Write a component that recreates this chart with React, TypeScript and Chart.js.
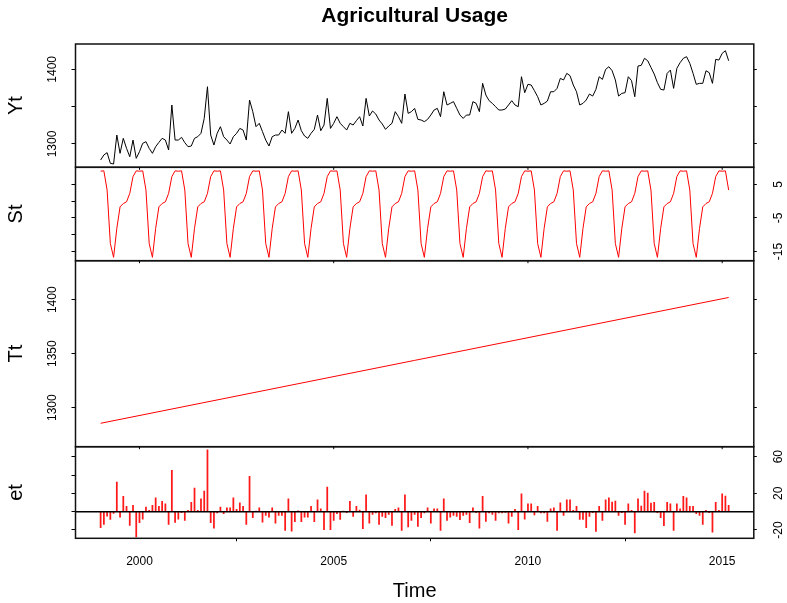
import React, { useEffect, useRef } from "react";
import { Chart, registerables } from "chart.js";

Chart.register(...registerables);

const FONT = "'Liberation Sans', Arial, sans-serif";

// ---- time index ----
const startYear = 1999;
const monthsPerYear = 12;

// ---- observed series (Yt), monthly Jan 1999 .. Mar 2015 ----
const ytValues = [
  1278.6, 1285.3, 1288.4, 1274.1, 1273.2, 1312.0, 1287.5, 1307.6, 1294.2, 1283.0, 1305.3, 1280.8,
  1289.7, 1300.9, 1303.1, 1294.2, 1287.5, 1296.4, 1302.2, 1307.6, 1305.3, 1292.0, 1352.2, 1305.3,
  1305.3, 1308.9, 1301.8, 1296.4, 1297.3, 1307.6, 1309.8, 1314.3, 1334.3, 1376.7, 1312.0, 1298.6,
  1314.3, 1323.2, 1309.8, 1305.3, 1300.0, 1309.8, 1314.3, 1320.9, 1318.7, 1305.3, 1358.9, 1343.3,
  1323.2, 1327.7, 1316.5, 1305.3, 1297.3, 1309.8, 1312.0, 1312.0, 1318.7, 1314.3, 1343.3, 1314.3,
  1320.9, 1332.1, 1317.8, 1310.7, 1307.6, 1314.3, 1319.6, 1338.8, 1317.8, 1325.4, 1361.1, 1320.9,
  1327.7, 1336.6, 1327.7, 1323.2, 1318.7, 1327.7, 1325.4, 1331.2, 1336.6, 1324.1, 1361.1, 1337.5,
  1344.2, 1340.1, 1332.1, 1326.8, 1319.6, 1324.1, 1327.7, 1343.3, 1336.6, 1327.7, 1366.9, 1341.0,
  1343.3, 1347.7, 1333.0, 1332.1, 1329.9, 1333.0, 1338.8, 1345.5, 1347.7, 1336.6, 1370.0, 1352.2,
  1354.4, 1356.7, 1347.7, 1338.8, 1334.3, 1338.8, 1338.8, 1356.7, 1354.4, 1343.3, 1381.2, 1365.6,
  1358.0, 1354.4, 1350.0, 1345.5, 1345.5, 1346.8, 1352.2, 1358.0, 1352.2, 1350.0, 1390.1, 1368.7,
  1379.9, 1379.0, 1371.4, 1363.3, 1352.2, 1354.4, 1357.5, 1370.0, 1370.0, 1374.5, 1387.9, 1385.7,
  1394.6, 1391.5, 1379.0, 1370.0, 1352.2, 1354.4, 1358.9, 1366.9, 1364.2, 1373.2, 1390.1, 1386.5,
  1399.9, 1403.5, 1398.1, 1385.7, 1364.2, 1367.8, 1368.7, 1390.1, 1384.8, 1363.3, 1404.4, 1405.3,
  1414.7, 1411.5, 1402.6, 1393.7, 1382.1, 1373.2, 1372.3, 1394.6, 1399.0, 1374.5, 1401.3, 1408.9,
  1414.7, 1416.9, 1408.0, 1394.6, 1379.9, 1381.2, 1381.2, 1398.1, 1395.5, 1381.2, 1413.3, 1412.4,
  1421.4, 1424.9, 1411.5,
];

// ---- seasonal component (St): one value per calendar month, Jan..Dec ----
const seasonalPattern = [8.9, 9.0, 3.3, -12.6, -16.7, -8.1, -1.7, -0.7, -0.2, 2.3, 7.3, 9.0];

// ---- trend component (Tt): straight line, start and end ----
const trendTimes = [1999, 2015.1667];
const trendValues = [1285.5, 1402.1];

// ---- irregular component (et) ----
const etValues = [
  -17.4, -13.9, -5.0, -8.5, -2.0, 32.2, -5.9, 16.7, 5.7, -15.0, 6.9, -27.6,
  -12.1, -8.1, 5.0, 1.3, 6.9, 15.1, 5.7, 11.2, 8.6, -13.9, 45.0, -11.7,
  -8.1, -1.0, -9.5, 1.3, 10.1, 25.8, 1.3, 14.1, 22.5, 67.5, -12.1, -18.0,
  -1.5, 5.0, -2.3, 4.3, 4.3, 15.1, 2.5, 9.7, 5.7, -13.9, 38.5, -6.6,
  0.5, 4.3, -11.4, -4.1, -5.9, 4.3, -12.5, -4.1, -4.1, -20.5, 14.1, -21.2,
  -10.9, 1.0, -10.9, -5.9, -5.9, 5.7, -10.9, 13.0, 3.2, -19.7, 26.8, -19.7,
  -9.5, -2.3, -8.5, 0.5, -1.0, 11.2, -5.1, 5.7, 1.7, -18.6, 18.4, -12.5,
  -3.0, -1.5, -13.9, -5.1, -6.6, -3.0, -15.0, 2.5, 4.3, -20.5, 18.4, -16.8,
  -9.5, -3.1, -16.1, -6.6, -1.5, 4.3, -12.5, 3.2, 3.2, -20.5, 14.1, -9.5,
  -5.9, -4.1, -5.1, -8.8, -4.1, -3.1, -12.1, 4.3, -1.0, -18.0, 16.7, -10.6,
  -1.5, -3.1, -9.5, -1.5, -1.5, -0.8, -12.5, -5.1, 2.5, -19.7, 19.4, -8.1,
  8.6, 8.6, -3.7, 5.7, -1.5, -1.5, -10.6, 3.2, 4.3, -20.5, 9.7, -4.1,
  13.0, 13.0, 1.3, 5.7, -8.5, -8.5, -17.4, -5.1, -1.0, -21.5, 5.7, -9.5,
  13.0, 15.1, 10.4, 11.5, -4.1, -1.0, -13.9, 8.6, 1.3, -23.3, 14.1, 6.0,
  22.5, 20.3, 9.3, 10.1, -1.0, -6.6, -15.3, 10.1, 8.6, -20.5, 8.6, 3.2,
  16.7, 15.1, 5.7, 5.7, -2.3, -4.1, -13.9, 1.3, -1.0, -22.3, 10.1, 1.3,
  19.4, 17.0, 6.9,
];

// ---- axes ----
const xRange = [1998.353, 2015.814];
const xTicks = [2000, 2005, 2010, 2015];
const xTickLabels = ["2000", "2005", "2010", "2015"];

const ytRange = [1268.8, 1433.9];
const ytTicks = [1300, 1350, 1400];
const ytTickLabels = ["1300", "", "1400"];

const stRange = [-17.7, 10.06];
const stTicks = [-15, -10, -5, 0, 5];
const stTickLabels = ["-15", "", "-5", "", "5"];

const ttRange = [1263.8, 1436.2];
const ttTicks = [1300, 1350, 1400];
const ttTickLabels = ["1300", "1350", "1400"];

const etRange = [-29.1, 70.9];
const etTicks = [-20, 0, 20, 40, 60];
const etTickLabels = ["-20", "", "20", "", "60"];

const LEFT_W = 75.5;
const RIGHT_W = 33.2;

function timeOf(i: number) {
  return startYear + i / monthsPerYear;
}

function yAxis(
  pos: "left" | "right",
  weight: number,
  stackWeight: number,
  range: number[],
  ticks: number[],
  labels: string[] | null,
  title: string | null,
  padding: number
) {
  return {
    type: "linear",
    position: pos,
    stack: "panels",
    stackWeight,
    weight,
    min: range[0],
    max: range[1],
    afterBuildTicks: (s: any) => {
      s.ticks = ticks.map((v) => ({ value: v }));
    },
    afterFit: (s: any) => {
      s.width = pos === "left" ? LEFT_W : RIGHT_W;
    },
    ticks: {
      display: true,
      minRotation: 90,
      maxRotation: 90,
      crossAlign: "center",
      padding,
      color: "#000",
      font: { family: FONT, size: 12 },
      callback: (_v: any, idx: number) => (labels ? labels[idx] : ""),
    },
    grid: {
      display: true,
      drawOnChartArea: false,
      drawTicks: true,
      tickLength: pos === "left" ? 4 : 3,
      color: "#000",
      lineWidth: 1,
    },
    border: { display: false },
    title: title
      ? {
          display: true,
          text: title,
          color: "#000",
          font: { family: FONT, size: 20 },
          padding: { top: 4, bottom: 0 },
        }
      : { display: false },
  };
}

const leftPanelIds = ["yYt", "yStL", "yTt", "yEtL"];

const framePlugin = {
  id: "panelFrames",
  afterDraw(chart: any) {
    const { ctx, chartArea, scales } = chart;
    ctx.save();
    ctx.strokeStyle = "#111";
    ctx.lineWidth = 1.5;
    leftPanelIds.forEach((id) => {
      const s = scales[id];
      ctx.strokeRect(chartArea.left, s.top, chartArea.right - chartArea.left, s.bottom - s.top);
    });
    ctx.lineWidth = 1;
    ctx.strokeStyle = "#000";
    const xs = scales.x;
    leftPanelIds.slice(0, 3).forEach((id) => {
      const s = scales[id];
      xTicks.forEach((v) => {
        const px = xs.getPixelForValue(v);
        ctx.beginPath();
        ctx.moveTo(px, s.bottom);
        ctx.lineTo(px, s.bottom + 2.5);
        ctx.stroke();
      });
    });
    ctx.restore();
  },
};

export default function App() {
  const ref = useRef<HTMLCanvasElement | null>(null);

  useEffect(() => {
    if (!ref.current) return;
    const ytData = ytValues.map((v, i) => ({ x: timeOf(i), y: v }));
    const stData = ytValues.map((_v, i) => ({ x: timeOf(i), y: seasonalPattern[i % monthsPerYear] }));
    const ttData = trendTimes.map((t, i) => ({ x: t, y: trendValues[i] }));
    const etData = etValues.map((v, i) => ({ x: timeOf(i), y: v }));
    const zeroData = xRange.map((t) => ({ x: t, y: 0 }));

    const chart = new Chart(ref.current, {
      type: "line",
      data: {
        datasets: [
          {
            label: "Yt",
            data: ytData,
            yAxisID: "yYt",
            borderColor: "#000",
            borderWidth: 1,
            pointRadius: 0,
            tension: 0,
            fill: false,
          },
          {
            label: "St",
            data: stData,
            yAxisID: "yStR",
            borderColor: "#ff0000",
            borderWidth: 1,
            pointRadius: 0,
            tension: 0,
            fill: false,
          },
          {
            label: "Tt",
            data: ttData,
            yAxisID: "yTt",
            borderColor: "#ff0000",
            borderWidth: 1,
            pointRadius: 0,
            tension: 0,
            fill: false,
          },
          {
            label: "zero",
            data: zeroData,
            yAxisID: "yEtR",
            borderColor: "#000",
            borderWidth: 1.5,
            pointRadius: 0,
            fill: false,
            order: 0,
          },
          {
            type: "bar",
            label: "et",
            data: etData,
            yAxisID: "yEtR",
            backgroundColor: "rgba(255,0,0,0.9)",
            borderWidth: 0,
            barThickness: 1.1,
            order: 1,
          } as any,
        ],
      },
      options: {
        animation: false,
        responsive: false,
        devicePixelRatio: 1,
        events: [],
        layout: { padding: 0 },
        plugins: {
          legend: { display: false },
          tooltip: { enabled: false },
          title: {
            display: true,
            fullSize: false,
            text: "Agricultural Usage",
            color: "#000",
            font: { family: FONT, size: 21, weight: "bold", lineHeight: 1.2 },
            padding: { top: 3.2, bottom: 15.6 },
          },
        },
        scales: {
          x: {
            type: "linear",
            position: "bottom",
            min: xRange[0],
            max: xRange[1],
            offset: false,
            afterBuildTicks: (s: any) => {
              s.ticks = xTicks.map((v) => ({ value: v }));
            },
            afterFit: (s: any) => {
              s.height = 64.7;
            },
            ticks: {
              color: "#000",
              padding: 13,
              maxRotation: 0,
              font: { family: FONT, size: 12 },
              callback: (_v: any, idx: number) => xTickLabels[idx],
            },
            grid: {
              drawOnChartArea: false,
              drawTicks: true,
              tickLength: 3,
              color: "#000",
            },
            border: { display: false },
            title: {
              display: true,
              text: "Time",
              color: "#000",
              font: { family: FONT, size: 20 },
              padding: { top: 0, bottom: 0 },
            },
          },
          yYt: yAxis("left", 4, 123.3, ytRange, ytTicks, ytTickLabels, "Yt", 5.7),
          yStL: yAxis("left", 3, 93.4, stRange, stTicks, null, "St", 5.7),
          yTt: yAxis("left", 2, 186, ttRange, ttTicks, ttTickLabels, "Tt", 5.7),
          yEtL: yAxis("left", 1, 91.6, etRange, etTicks, null, "et", 5.7),
          yYtR: yAxis("right", 1, 123.3, ytRange, ytTicks, null, null, 13.5),
          yStR: yAxis("right", 2, 93.4, stRange, stTicks, stTickLabels, null, 13.5),
          yTtR: yAxis("right", 3, 186, ttRange, ttTicks, null, null, 13.5),
          yEtR: yAxis("right", 4, 91.6, etRange, etTicks, etTickLabels, null, 13.5),
        } as any,
      },
      plugins: [framePlugin],
    } as any);

    return () => chart.destroy();
  }, []);

  return (
    <div style={{ position: "absolute", left: 0, top: 0, width: 787, height: 603, background: "#fff" }}>
      <canvas ref={ref} width={787} height={603} style={{ display: "block", width: 787, height: 603 }} />
    </div>
  );
}
